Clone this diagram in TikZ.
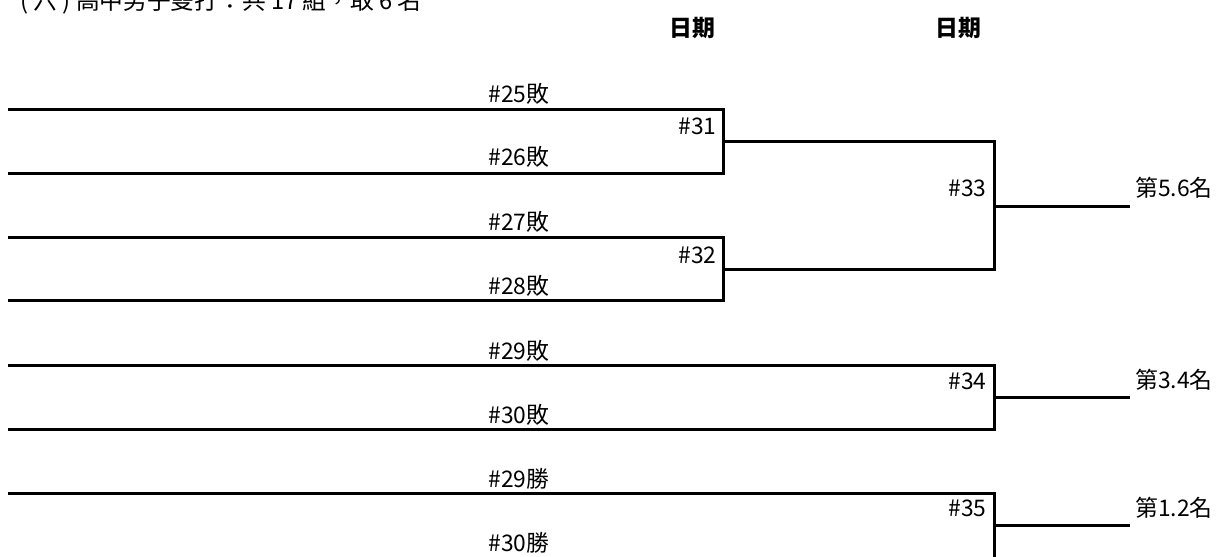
\documentclass[tikz,border=0pt]{standalone}
\usepackage{fontspec}
\newfontfamily\cjk{Noto Sans CJK TC}
\usetikzlibrary{positioning}

\begin{document}
\begin{tikzpicture}[x=0.02cm, y=-0.02cm, font=\cjk\fontsize{13}{15}\selectfont,
  ln/.style={line width=1.7pt, line join=miter},
  lbl/.style={inner sep=0pt},
  hd/.style={inner sep=0pt, font=\cjk\bfseries\fontsize{13}{15}\selectfont}]

\useasboundingbox (0,0) rectangle (1217,556);

\node[lbl, anchor=base west, font=\cjk\fontsize{13.5}{15}\selectfont] (title) at (20,9) {( 六 ) 高中男子雙打：共 17 組，取 6 名};
\node[hd] (d1) at (692,28) {日期};
\node[hd] (d2) at (958,28) {日期};

% left ends of the draw lines
\coordinate (s25) at (8,109);
\coordinate (s26) at (8,173);
\coordinate (s27) at (8,237);
\coordinate (s28) at (8,300);
\coordinate (s29) at (8,365);
\coordinate (s30) at (8,429);
\coordinate (w29) at (8,493);
\coordinate (w30) at (8,558);

% bracket junctions and free ends
\coordinate (j31) at (723,141);
\coordinate (j32) at (723,269);
\coordinate (j33) at (994,206);
\coordinate (j34) at (994,397);
\coordinate (j35) at (994,525);
\coordinate (e33) at (1130,206);
\coordinate (e34) at (1130,397);
\coordinate (e35) at (1130,525);

\node[lbl, anchor=west] (t25) at (488,94)  {\#25敗};
\node[lbl, anchor=west] (t26) at (488,157) {\#26敗};
\node[lbl, anchor=west] (t27) at (488,222) {\#27敗};
\node[lbl, anchor=west] (t28) at (488,286) {\#28敗};
\node[lbl, anchor=west] (t29) at (488,351) {\#29敗};
\node[lbl, anchor=west] (t30) at (488,415) {\#30敗};
\node[lbl, anchor=west] (v29) at (488,479) {\#29勝};
\node[lbl, anchor=west] (v30) at (488,543) {\#30勝};

\node[lbl, anchor=east] (m31) at (717,126) {\#31};
\node[lbl, anchor=east] (m32) at (717,255) {\#32};
\node[lbl, anchor=east] (m33) at (987,188) {\#33};
\node[lbl, anchor=east] (m34) at (987,381) {\#34};
\node[lbl, anchor=east] (m35) at (987,508) {\#35};

\node[lbl, anchor=west] (p56) at (1135,188) {第5.6名};
\node[lbl, anchor=west] (p34) at (1135,380) {第3.4名};
\node[lbl, anchor=west] (p12) at (1135,508) {第1.2名};

\draw[ln] (s25) -| (j31) |- (s26);
\draw[ln] (s27) -| (j32) |- (s28);
\draw[ln] (j31) -| (j33) |- (j32);
\draw[ln] (j33) -- (e33);

\draw[ln] (s29) -| (j34) |- (s30);
\draw[ln] (j34) -- (e34);

\draw[ln] (w29) -| (j35) |- (w30);
\draw[ln] (j35) -- (e35);

\end{tikzpicture}
\end{document}
